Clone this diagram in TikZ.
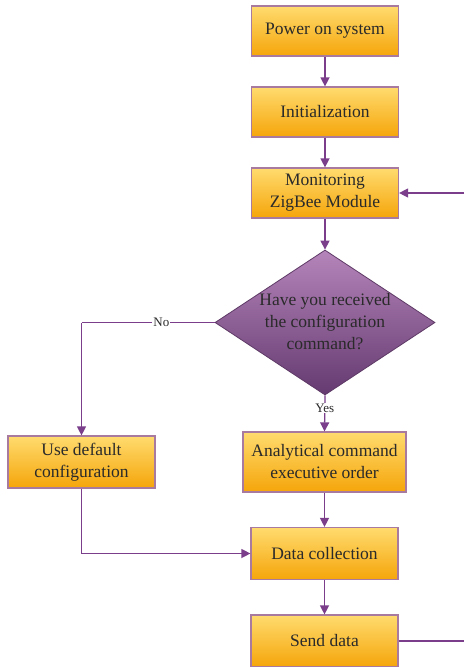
\documentclass[tikz,border=0pt]{standalone}
\usepackage{fontspec}
\setmainfont{Liberation Serif}
\usetikzlibrary{shapes.geometric,arrows.meta}
\definecolor{arrowc}{HTML}{7A3E8A}
\definecolor{boxline}{HTML}{A87AA0}
\definecolor{boxtop}{HTML}{FFDB6E}
\definecolor{boxbot}{HTML}{F5A50A}
\definecolor{dtop}{HTML}{B585BA}
\definecolor{dbot}{HTML}{643A70}
\definecolor{dline}{HTML}{5E3A66}
\definecolor{txt}{HTML}{2A2A2A}
\tikzset{
  procbox/.style={draw=boxline, line width=1.2pt, top color=boxtop, bottom color=boxbot,
    minimum width=147pt, minimum height=50pt, inner sep=0pt, align=center,
    font=\fontsize{17.5}{22}\selectfont, text=txt},
  decbox/.style={draw=dline, line width=0.8pt, diamond, top color=dtop, bottom color=dbot,
    minimum width=220pt, minimum height=145pt, inner sep=0pt},
  dectext/.style={align=center, inner sep=0pt, font=\fontsize{17.5}{22}\selectfont, text=txt},
  flow/.style={draw=arrowc, line width=1.3pt, -{Triangle[length=9pt,width=9pt]}},
  flowline/.style={draw=arrowc, line width=1.3pt},
  lbl/.style={fill=white, inner sep=1pt, font=\fontsize{13}{15}\selectfont, text=txt}
}
\begin{document}
\begin{tikzpicture}[x=1pt,y=-1pt]
\useasboundingbox (0,0) rectangle (464,667);
\node[procbox] (power) at (325,31) {Power on system};
\node[procbox] (init) at (325,112) {Initialization};
\node[procbox] (mon) at (325,193) {Monitoring\\ZigBee Module};
\node[decbox] (dec) at (325,322.5) {};
\node[dectext] (dect) at (325,322) {Have you received\\the configuration\\command?};
\node[procbox, minimum width=147pt, minimum height=52pt] (def) at (81.5,462) {Use default\\configuration};
\node[procbox, minimum width=163pt, minimum height=60pt] (ana) at (324.5,462) {Analytical command\\executive order};
\node[procbox, minimum height=52pt] (data) at (324.5,553.5) {Data collection};
\node[procbox, minimum height=52pt] (send) at (324.5,641) {Send data};
\coordinate (rin) at (464,193);
\coordinate (rout) at (464,641);
\coordinate (lc) at (81.5,322.5);
\coordinate (lb) at (81.5,553.5);
\draw[flow] (power) -- (init);
\draw[flow] (init) -- (mon);
\draw[flow] (mon) -- (dec.north);
\draw[flowline] (dec.west) -- node[lbl, pos=0.4] {No} (lc);
\draw[flow] (lc) -- (def);
\draw[flow] (dec.south) -- node[lbl, pos=0.35] {Yes} (ana.north);
\draw[flow] (ana) -- (data);
\draw[flowline] (def) -- (lb);
\draw[flow] (lb) -- (data.west);
\draw[flow] (data) -- (send);
\draw[flowline] (send.east) -- (rout);
\draw[flow] (rin) -- (mon.east);
\end{tikzpicture}
\end{document}
